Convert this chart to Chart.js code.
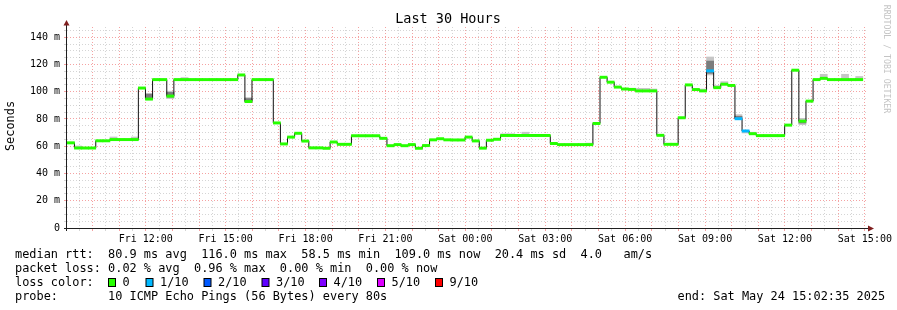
<!DOCTYPE html>
<html>
<head>
<meta charset="utf-8">
<title>Last 30 Hours</title>
<script src="https://cdn.jsdelivr.net/npm/chart.js@4.4.1/dist/chart.umd.min.js"></script>
<style>
  html, body { margin: 0; padding: 0; background: #fff; }
  #wrap { width: 897px; height: 310px; }
</style>
</head>
<body>
<div id="wrap"><canvas id="pingChart" width="897" height="310"></canvas></div>
<script>
// rrd rows are 16 minutes wide, time is counted in hours from Fri 00:00
const stepStart = 9.1892;
const stepHours = 16 / 60;
const axisStart = 9 + 2 / 60 + 35 / 3600; // Fri 09:02:35
const axisEnd = axisStart + 30;

// median rtt per row (ms)
const median = [
  62.5, 58.7, 58.7, 58.7, 64.0, 64.0, 64.9, 64.9, 64.9, 64.9,
  102.7, 94.6, 108.9, 108.9, 96.8, 108.9, 108.9, 108.9, 108.9, 108.9,
  108.9, 108.9, 108.9, 108.9, 112.3, 92.8, 108.9, 108.9, 108.9, 77.1,
  61.7, 66.7, 69.5, 63.8, 58.8, 58.8, 58.5, 63.1, 61.4, 61.4,
  67.7, 67.7, 67.7, 67.7, 65.8, 60.4, 61.2, 60.4, 61.2, 58.5,
  60.5, 64.7, 65.5, 64.7, 64.6, 64.6, 66.7, 63.9, 58.6, 64.4,
  65.1, 67.9, 67.9, 67.9, 67.9, 67.9, 67.9, 67.9, 62.0, 61.2,
  61.2, 61.2, 61.2, 61.2, 76.7, 110.6, 107.0, 103.4, 102.0, 101.7,
  100.6, 100.6, 100.6, 68.0, 61.4, 61.4, 80.9, 105.0, 101.6, 100.6,
  115.3, 103.0, 105.5, 104.6, 80.2, 71.2, 69.2, 67.8, 67.8, 67.8,
  67.8, 75.5, 115.8, 78.4, 93.1, 108.9, 109.8, 108.9, 108.9, 108.9,
  108.9, 108.9
];

// rows that lost pings
const lossSteps = [90, 94, 95];
const lossPings = [1, 1, 1];

// smoke (spread of the 10 pings), outer and inner band
const smokeSteps = [1, 6, 9, 11, 14, 16, 25, 61, 62, 64, 73, 80, 81, 82, 89, 90, 91, 92, 94, 95, 96, 103, 106, 109, 111];
const smokeLow = [58.5, 64.8, 64.8, 94.6, 95.0, 108.9, 92.5, 67.9, 67.9, 67.9, 61.2, 100.6, 100.6, 100.6, 100.6, 112.3, 103.0, 105.5, 80.2, 69.7, 69.2, 75.8, 109.8, 108.9, 108.9];
const smokeHigh = [60.2, 66.8, 66.8, 98.8, 100.4, 110.4, 95.7, 69.2, 69.2, 70.3, 62.3, 102.5, 102.5, 102.0, 102.0, 125.5, 104.6, 107.4, 83.2, 71.2, 70.3, 80.5, 112.8, 112.8, 111.2];
const coreSteps = [11, 14, 25, 90, 94, 103];
const coreLow = [95.0, 96.0, 93.0, 113.5, 80.5, 77.0];
const coreHigh = [98.2, 99.5, 95.0, 122.5, 82.0, 79.0];

const xTickHours = [12, 15, 18, 21, 24, 27, 30, 33, 36, 39];
const xTickLabels = ['Fri 12:00', 'Fri 15:00', 'Fri 18:00', 'Fri 21:00', 'Sat 00:00', 'Sat 03:00', 'Sat 06:00', 'Sat 09:00', 'Sat 12:00', 'Sat 15:00'];
const yTickValues = [0, 20, 40, 60, 80, 100, 120, 140];
const yTickLabels = ['0', '20 m', '40 m', '60 m', '80 m', '100 m', '120 m', '140 m'];

const lossLabels = ['0', '1/10', '2/10', '3/10', '4/10', '5/10', '9/10'];
const lossLevels = [0, 1, 2, 3, 4, 5, 9];

const legendLines = [
  'median rtt:  80.9 ms avg  116.0 ms max  58.5 ms min  109.0 ms now  20.4 ms sd  4.0   am/s',
  'packet loss: 0.02 % avg  0.96 % max  0.00 % min  0.00 % now'
];
const probeText = 'probe:       10 ICMP Echo Pings (56 Bytes) every 80s';
const endText = 'end: Sat May 24 15:02:35 2025';

const lossColors = ['#26ff00', '#00b8ff', '#0059ff', '#5e00ff', '#7e00ff', '#dd00ff', '#ff0000'];
const majorGrid = 'rgba(235, 70, 70, 0.5)';
const minorGrid = 'rgba(150, 150, 150, 0.4)';
const mono = 'DejaVu Sans Mono';

const stepTime = j => stepStart + j * stepHours;
const lossOf = j => {
  const k = lossSteps.indexOf(j);
  return k < 0 ? 0 : lossPings[k];
};
const colorOf = n => lossColors[lossLevels.indexOf(n)];

// title, axis arrows, legend block
const decorations = {
  id: 'decorations',
  afterDraw(chart) {
    const c = chart.ctx;
    const area = chart.chartArea;
    c.save();

    c.fillStyle = '#000';
    c.textBaseline = 'middle';
    c.textAlign = 'center';
    c.font = '13.5px "' + mono + '"';
    c.fillText('Last 30 Hours', 448, 19.5);

    c.save();
    c.translate(11, 126);
    c.rotate(-Math.PI / 2);
    c.font = '11.9px "' + mono + '"';
    c.fillText('Seconds', 0, 0);
    c.restore();

    c.save();
    c.translate(886, 59);
    c.rotate(Math.PI / 2);
    c.fillStyle = '#c4c4c4';
    c.font = '8.2px "' + mono + '"';
    c.fillText('RRDTOOL / TOBI OETIKER', 0, 0);
    c.restore();

    // axes
    c.strokeStyle = '#1f1f1f';
    c.lineWidth = 1;
    c.beginPath();
    c.moveTo(area.left - 3, area.bottom + 0.5);
    c.lineTo(area.right + 3, area.bottom + 0.5);
    c.moveTo(area.left - 0.5, area.bottom + 3);
    c.lineTo(area.left - 0.5, area.top - 3);
    c.stroke();

    c.fillStyle = '#7f1f1f';
    c.beginPath();
    c.moveTo(area.right + 2, area.bottom - 2.5);
    c.lineTo(area.right + 8, area.bottom + 0.5);
    c.lineTo(area.right + 2, area.bottom + 3.5);
    c.closePath();
    c.fill();
    c.beginPath();
    c.moveTo(area.left - 3.5, area.top - 1.5);
    c.lineTo(area.left - 0.5, area.top - 7);
    c.lineTo(area.left + 2.5, area.top - 1.5);
    c.closePath();
    c.fill();

    // legend text
    c.fillStyle = '#000';
    c.textAlign = 'left';
    c.font = '11.9px "' + mono + '"';
    c.fillText(legendLines[0], 15, 254.5);
    c.fillText(legendLines[1], 15, 268.5);
    c.fillText('loss color:', 15, 282.5);
    c.fillText(probeText, 15, 296.5);
    c.fillText(endText, 677.5, 296.5);

    const boxX = [108, 145.5, 203.5, 261.5, 319, 377, 435];
    lossLabels.forEach((label, i) => {
      c.fillStyle = lossColors[i];
      c.fillRect(boxX[i] + 0.5, 278.5, 7, 8);
      c.strokeStyle = '#000';
      c.strokeRect(boxX[i] + 0.5, 278.5, 7, 8);
      c.fillStyle = '#000';
      c.fillText(label, boxX[i] + 14.5, 282.5);
    });

    c.restore();
  }
};

const barCommon = {
  type: 'bar',
  grouped: false,
  barPercentage: 1,
  categoryPercentage: 1,
  borderWidth: 0
};

const ctx = document.getElementById('pingChart').getContext('2d');
new Chart(ctx, {
  type: 'bar',
  data: {
    datasets: [
      Object.assign({}, barCommon, {
        label: 'smoke',
        data: smokeSteps.map((j, i) => ({ x: stepTime(j), y: [smokeLow[i], smokeHigh[i]] })),
        backgroundColor: '#c6c6c6',
        order: 4
      }),
      Object.assign({}, barCommon, {
        label: 'smoke core',
        data: coreSteps.map((j, i) => ({ x: stepTime(j), y: [coreLow[i], coreHigh[i]] })),
        backgroundColor: '#7c7c7c',
        order: 3
      }),
      {
        type: 'line',
        label: 'median step',
        data: median.map((v, j) => ({ x: stepTime(j), y: v })),
        stepped: 'middle',
        borderColor: '#111',
        borderWidth: 1,
        pointRadius: 0,
        fill: false,
        order: 2
      },
      Object.assign({}, barCommon, {
        label: 'median rtt',
        data: median.map((v, j) => ({ x: stepTime(j), y: [v - 0.85, v + 0.85] })),
        backgroundColor: median.map((v, j) => colorOf(lossOf(j))),
        order: 1
      })
    ]
  },
  options: {
    responsive: false,
    animation: false,
    devicePixelRatio: 1,
    layout: { padding: { left: 0, top: 27, right: 31, bottom: 0 } },
    plugins: { legend: { display: false }, tooltip: { enabled: false }, title: { display: false } },
    scales: {
      x: {
        type: 'linear',
        min: axisStart,
        max: axisEnd,
        offset: false,
        afterBuildTicks: axis => {
          const ticks = [];
          for (let h = 9.5; h <= 39; h += 0.5) ticks.push({ value: h });
          axis.ticks = ticks;
        },
        afterFit: scale => { scale.height = 82; },
        grid: {
          offset: false,
          color: c => (c.tick && c.tick.value % 1 === 0) ? majorGrid : minorGrid,
          tickColor: c => (c.tick && c.tick.value % 1 === 0) ? majorGrid : minorGrid,
          tickLength: 3,
          lineWidth: 1
        },
        border: { display: false, dash: [1, 2] },
        ticks: {
          autoSkip: false,
          maxRotation: 0,
          minRotation: 0,
          padding: 2,
          color: '#000',
          font: { family: mono, size: 10 },
          callback: value => {
            const i = xTickHours.indexOf(value);
            return i < 0 ? '' : xTickLabels[i];
          }
        }
      },
      y: {
        type: 'linear',
        min: 0,
        max: 147.5,
        afterBuildTicks: axis => {
          const ticks = [];
          for (let v = 0; v <= 145; v += 5) ticks.push({ value: v });
          axis.ticks = ticks;
        },
        afterFit: scale => { scale.width = 67; },
        grid: {
          color: c => (c.tick && c.tick.value % 20 === 0) ? majorGrid : minorGrid,
          tickColor: c => (c.tick && c.tick.value % 20 === 0) ? majorGrid : minorGrid,
          tickLength: 3,
          lineWidth: 1
        },
        border: { display: false, dash: [1, 2] },
        ticks: {
          autoSkip: false,
          padding: 4,
          color: '#000',
          font: { family: mono, size: 10 },
          callback: value => {
            const i = yTickValues.indexOf(value);
            return i < 0 ? '' : yTickLabels[i];
          }
        }
      }
    }
  },
  plugins: [decorations]
});
</script>
</body>
</html>
